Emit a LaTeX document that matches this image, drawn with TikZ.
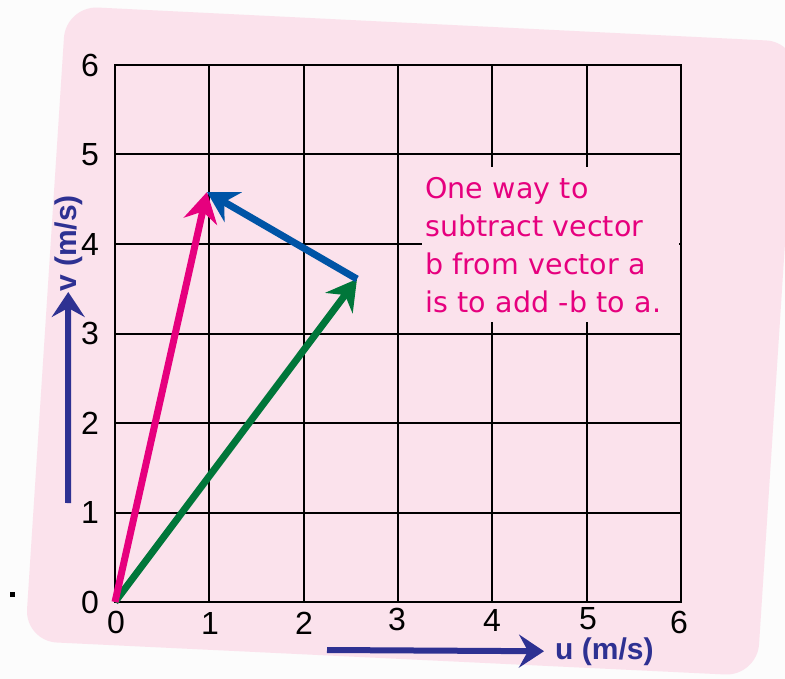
\documentclass[tikz,border=0pt]{standalone}
\usepackage{fontspec}
\setmainfont{Liberation Sans}
\newfontfamily\notefont{DejaVu Sans}
\usetikzlibrary{arrows.meta}
\definecolor{bgpink}{RGB}{251,226,236}
\definecolor{vmagenta}{RGB}{230,0,126}
\definecolor{vblue}{RGB}{0,84,166}
\definecolor{vgreen}{RGB}{0,118,58}
\definecolor{navy}{RGB}{46,49,146}
\tikzset{
  gridline/.style={line width=2pt, black, line cap=rect},
  ticklbl/.style={font=\fontsize{32pt}{32pt}\selectfont, inner sep=0pt},
  vec/.style={line width=7pt, -{Stealth[length=30pt,width=34pt,inset=10pt]}},
  axarrow/.style={navy, line width=6pt, -{Stealth[length=25pt,width=33pt,inset=9pt]}},
  axlabel/.style={navy, font=\bfseries\fontsize{30pt}{30pt}\selectfont, inner sep=0pt},
  notebox/.style={fill=bgpink, text=vmagenta, anchor=north west, text width=251pt,
    minimum height=155pt, inner xsep=3pt, inner ysep=4pt, align=left,
    font=\notefont\fontsize{28.5pt}{38pt}\selectfont}
}
\begin{document}
\begin{tikzpicture}[x=1pt,y=-1pt]
\useasboundingbox (0,0) rectangle (785,679);
\fill[white!99!black] (0,0) rectangle (785,679);
\fill[bgpink, rounded corners=32pt] (66,6) -- (798,42) -- (757,676) -- (25,641) -- cycle;
% grid
\foreach \i in {0,...,6} {
  \draw[gridline] ({115+94.33*\i},65) -- ({115+94.33*\i},602);
  \draw[gridline] (115,{602-89.5*\i}) -- (681,{602-89.5*\i});
}
% y tick labels
\foreach \i in {0,...,6} {
  \node[ticklbl] (y\i) at (90,{602-89.5*\i}) {\i};
}
% x tick labels
\node[ticklbl] (x0) at (116,622) {0};
\node[ticklbl] (x1) at (210,623) {1};
\node[ticklbl] (x2) at (304,623) {2};
\node[ticklbl] (x3) at (397,619) {3};
\node[ticklbl] (x4) at (492,620) {4};
\node[ticklbl] (x5) at (588,619) {5};
\node[ticklbl] (x6) at (679,622) {6};
% note
\node[notebox] (note) at (422,167) {One way to\\subtract vector\\b from vector a\\is to add -b to a.};
% vectors
\coordinate (O) at (115,602);
\coordinate (A) at (207,192);
\coordinate (B) at (357,279);
\draw[vec, vgreen] (O) -- (B);
\draw[vec, vmagenta] (O) -- (A);
\draw[vec, vblue] (B) -- (A);
% axis labels
\node[axlabel, rotate=90, anchor=base west] (vlab) at (76,292) {v (m/s)};
\coordinate (vs) at (68,503);
\draw[axarrow] (vs) -- (vlab.west);
\node[axlabel, anchor=base west] (ulab) at (555,659) {u (m/s)};
\coordinate (us) at (327,650);
\draw[axarrow] (us) -- ([xshift=-11pt]ulab.west);
% stray dot
\fill[black] (10,592) rectangle (15,597);
\end{tikzpicture}
\end{document}
